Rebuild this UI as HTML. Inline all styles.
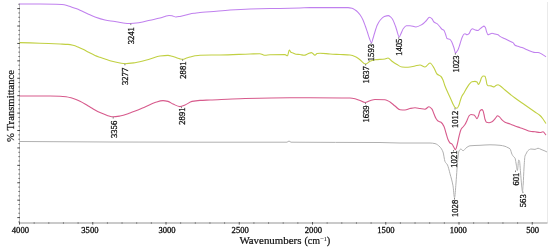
<!DOCTYPE html>
<html><head><meta charset="utf-8"><style>
html,body{margin:0;padding:0;background:#fff;width:550px;height:249px;overflow:hidden}
svg{display:block;will-change:transform;font-family:"Liberation Serif",serif;fill:#222}
svg text{fill:#111}
svg text.n{stroke:#111;stroke-width:0.3px}
svg text.t{stroke:#111;stroke-width:0.22px}
</style></head><body>
<svg width="550" height="249" viewBox="0 0 550 249">
<line x1="547.5" y1="2" x2="547.5" y2="223" stroke="#e4e4e4" stroke-width="0.8"/>
<line x1="19.5" y1="3.5" x2="19.5" y2="223.5" stroke="#bdbdbd" stroke-width="1"/>
<line x1="19" y1="223" x2="547.5" y2="223" stroke="#b8b8b8" stroke-width="1.3"/>
<line x1="19.50" y1="222" x2="19.50" y2="224.6" stroke="#555" stroke-width="1"/>
<line x1="34.15" y1="222" x2="34.15" y2="224" stroke="#777" stroke-width="0.8"/>
<line x1="48.80" y1="222" x2="48.80" y2="224" stroke="#777" stroke-width="0.8"/>
<line x1="63.45" y1="222" x2="63.45" y2="224" stroke="#777" stroke-width="0.8"/>
<line x1="78.10" y1="222" x2="78.10" y2="224" stroke="#777" stroke-width="0.8"/>
<line x1="92.75" y1="222" x2="92.75" y2="224.6" stroke="#555" stroke-width="1"/>
<line x1="107.40" y1="222" x2="107.40" y2="224" stroke="#777" stroke-width="0.8"/>
<line x1="122.05" y1="222" x2="122.05" y2="224" stroke="#777" stroke-width="0.8"/>
<line x1="136.70" y1="222" x2="136.70" y2="224" stroke="#777" stroke-width="0.8"/>
<line x1="151.35" y1="222" x2="151.35" y2="224" stroke="#777" stroke-width="0.8"/>
<line x1="166.00" y1="222" x2="166.00" y2="224.6" stroke="#555" stroke-width="1"/>
<line x1="180.65" y1="222" x2="180.65" y2="224" stroke="#777" stroke-width="0.8"/>
<line x1="195.30" y1="222" x2="195.30" y2="224" stroke="#777" stroke-width="0.8"/>
<line x1="209.95" y1="222" x2="209.95" y2="224" stroke="#777" stroke-width="0.8"/>
<line x1="224.60" y1="222" x2="224.60" y2="224" stroke="#777" stroke-width="0.8"/>
<line x1="239.25" y1="222" x2="239.25" y2="224.6" stroke="#555" stroke-width="1"/>
<line x1="253.90" y1="222" x2="253.90" y2="224" stroke="#777" stroke-width="0.8"/>
<line x1="268.55" y1="222" x2="268.55" y2="224" stroke="#777" stroke-width="0.8"/>
<line x1="283.20" y1="222" x2="283.20" y2="224" stroke="#777" stroke-width="0.8"/>
<line x1="297.85" y1="222" x2="297.85" y2="224" stroke="#777" stroke-width="0.8"/>
<line x1="312.50" y1="222" x2="312.50" y2="224.6" stroke="#555" stroke-width="1"/>
<line x1="327.15" y1="222" x2="327.15" y2="224" stroke="#777" stroke-width="0.8"/>
<line x1="341.80" y1="222" x2="341.80" y2="224" stroke="#777" stroke-width="0.8"/>
<line x1="356.45" y1="222" x2="356.45" y2="224" stroke="#777" stroke-width="0.8"/>
<line x1="371.10" y1="222" x2="371.10" y2="224" stroke="#777" stroke-width="0.8"/>
<line x1="385.75" y1="222" x2="385.75" y2="224.6" stroke="#555" stroke-width="1"/>
<line x1="400.40" y1="222" x2="400.40" y2="224" stroke="#777" stroke-width="0.8"/>
<line x1="415.05" y1="222" x2="415.05" y2="224" stroke="#777" stroke-width="0.8"/>
<line x1="429.70" y1="222" x2="429.70" y2="224" stroke="#777" stroke-width="0.8"/>
<line x1="444.35" y1="222" x2="444.35" y2="224" stroke="#777" stroke-width="0.8"/>
<line x1="459.00" y1="222" x2="459.00" y2="224.6" stroke="#555" stroke-width="1"/>
<line x1="473.65" y1="222" x2="473.65" y2="224" stroke="#777" stroke-width="0.8"/>
<line x1="488.30" y1="222" x2="488.30" y2="224" stroke="#777" stroke-width="0.8"/>
<line x1="502.95" y1="222" x2="502.95" y2="224" stroke="#777" stroke-width="0.8"/>
<line x1="517.60" y1="222" x2="517.60" y2="224" stroke="#777" stroke-width="0.8"/>
<line x1="532.25" y1="222" x2="532.25" y2="224.6" stroke="#555" stroke-width="1"/>
<line x1="18.3" y1="4.25" x2="20" y2="4.25" stroke="#666" stroke-width="0.9"/>
<line x1="17.3" y1="8.60" x2="20" y2="8.60" stroke="#444" stroke-width="1"/>
<line x1="18.3" y1="12.96" x2="20" y2="12.96" stroke="#666" stroke-width="0.9"/>
<line x1="18.3" y1="17.31" x2="20" y2="17.31" stroke="#666" stroke-width="0.9"/>
<line x1="18.3" y1="21.67" x2="20" y2="21.67" stroke="#666" stroke-width="0.9"/>
<line x1="17.3" y1="26.02" x2="20" y2="26.02" stroke="#444" stroke-width="1"/>
<line x1="18.3" y1="30.37" x2="20" y2="30.37" stroke="#666" stroke-width="0.9"/>
<line x1="18.3" y1="34.73" x2="20" y2="34.73" stroke="#666" stroke-width="0.9"/>
<line x1="18.3" y1="39.08" x2="20" y2="39.08" stroke="#666" stroke-width="0.9"/>
<line x1="17.3" y1="43.44" x2="20" y2="43.44" stroke="#444" stroke-width="1"/>
<line x1="18.3" y1="47.79" x2="20" y2="47.79" stroke="#666" stroke-width="0.9"/>
<line x1="18.3" y1="52.14" x2="20" y2="52.14" stroke="#666" stroke-width="0.9"/>
<line x1="18.3" y1="56.50" x2="20" y2="56.50" stroke="#666" stroke-width="0.9"/>
<line x1="17.3" y1="60.85" x2="20" y2="60.85" stroke="#444" stroke-width="1"/>
<line x1="18.3" y1="65.21" x2="20" y2="65.21" stroke="#666" stroke-width="0.9"/>
<line x1="18.3" y1="69.56" x2="20" y2="69.56" stroke="#666" stroke-width="0.9"/>
<line x1="18.3" y1="73.91" x2="20" y2="73.91" stroke="#666" stroke-width="0.9"/>
<line x1="17.3" y1="78.27" x2="20" y2="78.27" stroke="#444" stroke-width="1"/>
<line x1="18.3" y1="82.62" x2="20" y2="82.62" stroke="#666" stroke-width="0.9"/>
<line x1="18.3" y1="86.98" x2="20" y2="86.98" stroke="#666" stroke-width="0.9"/>
<line x1="18.3" y1="91.33" x2="20" y2="91.33" stroke="#666" stroke-width="0.9"/>
<line x1="17.3" y1="95.68" x2="20" y2="95.68" stroke="#444" stroke-width="1"/>
<line x1="18.3" y1="100.04" x2="20" y2="100.04" stroke="#666" stroke-width="0.9"/>
<line x1="18.3" y1="104.39" x2="20" y2="104.39" stroke="#666" stroke-width="0.9"/>
<line x1="18.3" y1="108.75" x2="20" y2="108.75" stroke="#666" stroke-width="0.9"/>
<line x1="17.3" y1="113.10" x2="20" y2="113.10" stroke="#444" stroke-width="1"/>
<line x1="18.3" y1="117.45" x2="20" y2="117.45" stroke="#666" stroke-width="0.9"/>
<line x1="18.3" y1="121.81" x2="20" y2="121.81" stroke="#666" stroke-width="0.9"/>
<line x1="18.3" y1="126.16" x2="20" y2="126.16" stroke="#666" stroke-width="0.9"/>
<line x1="17.3" y1="130.52" x2="20" y2="130.52" stroke="#444" stroke-width="1"/>
<line x1="18.3" y1="134.87" x2="20" y2="134.87" stroke="#666" stroke-width="0.9"/>
<line x1="18.3" y1="139.22" x2="20" y2="139.22" stroke="#666" stroke-width="0.9"/>
<line x1="18.3" y1="143.58" x2="20" y2="143.58" stroke="#666" stroke-width="0.9"/>
<line x1="17.3" y1="147.93" x2="20" y2="147.93" stroke="#444" stroke-width="1"/>
<line x1="18.3" y1="152.29" x2="20" y2="152.29" stroke="#666" stroke-width="0.9"/>
<line x1="18.3" y1="156.64" x2="20" y2="156.64" stroke="#666" stroke-width="0.9"/>
<line x1="18.3" y1="160.99" x2="20" y2="160.99" stroke="#666" stroke-width="0.9"/>
<line x1="17.3" y1="165.35" x2="20" y2="165.35" stroke="#444" stroke-width="1"/>
<line x1="18.3" y1="169.70" x2="20" y2="169.70" stroke="#666" stroke-width="0.9"/>
<line x1="18.3" y1="174.06" x2="20" y2="174.06" stroke="#666" stroke-width="0.9"/>
<line x1="18.3" y1="178.41" x2="20" y2="178.41" stroke="#666" stroke-width="0.9"/>
<line x1="17.3" y1="182.76" x2="20" y2="182.76" stroke="#444" stroke-width="1"/>
<line x1="18.3" y1="187.12" x2="20" y2="187.12" stroke="#666" stroke-width="0.9"/>
<line x1="18.3" y1="191.47" x2="20" y2="191.47" stroke="#666" stroke-width="0.9"/>
<line x1="18.3" y1="195.83" x2="20" y2="195.83" stroke="#666" stroke-width="0.9"/>
<line x1="17.3" y1="200.18" x2="20" y2="200.18" stroke="#444" stroke-width="1"/>
<line x1="18.3" y1="204.53" x2="20" y2="204.53" stroke="#666" stroke-width="0.9"/>
<line x1="18.3" y1="208.89" x2="20" y2="208.89" stroke="#666" stroke-width="0.9"/>
<line x1="18.3" y1="213.24" x2="20" y2="213.24" stroke="#666" stroke-width="0.9"/>
<line x1="17.3" y1="217.60" x2="20" y2="217.60" stroke="#444" stroke-width="1"/>
<line x1="18.3" y1="221.95" x2="20" y2="221.95" stroke="#666" stroke-width="0.9"/>
<path d="M19.50,4.00 C26.33,4.00 33.17,4.00 40.00,4.00 C45.33,4.00 50.67,4.08 56.00,4.20 C58.00,4.24 60.00,4.34 62.00,4.50 C63.67,4.63 65.33,5.00 67.00,5.40 C68.67,5.80 70.33,6.61 72.00,7.20 C73.33,7.67 74.67,8.10 76.00,8.60 C77.33,9.10 78.67,9.63 80.00,10.20 C82.67,11.35 85.33,12.80 88.00,14.00 C90.33,15.05 92.67,16.17 95.00,17.00 C98.33,18.19 101.67,19.33 105.00,20.00 C108.33,20.67 111.67,20.94 115.00,21.50 C117.33,21.89 119.67,22.52 122.00,22.80 C124.67,23.12 127.33,23.50 130.00,23.50 C133.33,23.50 136.67,22.96 140.00,22.50 C143.33,22.04 146.67,20.95 150.00,20.20 C153.33,19.45 156.67,18.86 160.00,18.00 C161.67,17.57 163.33,16.95 165.00,16.50 C166.33,16.14 167.67,15.50 169.00,15.50 C170.00,15.50 171.00,15.65 172.00,15.80 C173.33,16.00 174.67,17.00 176.00,17.00 C177.33,17.00 178.67,16.64 180.00,16.40 C181.67,16.10 183.33,15.70 185.00,15.30 C186.67,14.90 188.33,14.33 190.00,14.00 C191.67,13.67 193.33,13.45 195.00,13.20 C196.67,12.95 198.33,12.66 200.00,12.50 C203.33,12.18 206.67,12.06 210.00,11.80 C216.67,11.28 223.33,10.43 230.00,10.00 C236.67,9.57 243.33,9.20 250.00,9.00 C260.00,8.71 270.00,8.60 280.00,8.40 C286.67,8.27 293.33,8.18 300.00,8.00 C303.33,7.91 306.67,7.60 310.00,7.60 C316.67,7.60 323.33,7.60 330.00,7.60 C336.00,7.60 342.00,7.60 348.00,7.60 C349.33,7.60 350.67,7.94 352.00,8.30 C353.07,8.59 354.13,9.31 355.20,10.00 C356.13,10.61 357.07,11.37 358.00,12.30 C358.73,13.03 359.47,13.94 360.20,15.00 C361.13,16.35 362.07,18.01 363.00,20.00 C363.77,21.64 364.53,23.87 365.30,26.00 C366.03,28.03 366.77,30.30 367.50,32.50 C368.10,34.30 368.70,36.43 369.30,38.00 C370.00,39.84 370.70,42.80 371.40,42.80 C371.93,42.80 372.47,40.12 373.00,38.50 C373.43,37.18 373.87,35.41 374.30,34.00 C375.30,30.76 376.30,27.14 377.30,25.00 C378.30,22.86 379.30,21.16 380.30,20.00 C381.63,18.45 382.97,16.97 384.30,16.50 C385.67,16.02 387.03,15.60 388.40,15.60 C389.10,15.60 389.80,16.26 390.50,16.80 C391.13,17.29 391.77,18.04 392.40,19.00 C393.40,20.51 394.40,23.29 395.40,26.00 C395.93,27.45 396.47,29.44 397.00,31.00 C397.73,33.14 398.47,37.00 399.20,37.00 C399.73,37.00 400.27,35.06 400.80,34.00 C401.67,32.29 402.53,29.60 403.40,28.50 C404.40,27.23 405.40,25.86 406.40,25.80 C407.60,25.73 408.80,25.70 410.00,25.70 C412.00,25.70 414.00,27.00 416.00,27.00 C418.00,27.00 420.00,25.66 422.00,24.50 C423.33,23.73 424.67,22.30 426.00,21.00 C427.17,19.87 428.33,17.20 429.50,17.20 C430.33,17.20 431.17,18.03 432.00,18.80 C432.67,19.42 433.33,21.42 434.00,22.00 C435.00,22.86 436.00,22.96 437.00,23.70 C438.00,24.44 439.00,25.77 440.00,26.90 C440.67,27.66 441.33,28.83 442.00,29.30 C442.67,29.77 443.33,29.73 444.00,30.30 C444.50,30.73 445.00,32.65 445.50,34.00 C446.00,35.35 446.50,38.20 447.00,38.50 C448.00,39.10 449.00,38.87 450.00,39.40 C450.67,39.75 451.33,41.18 452.00,42.50 C452.67,43.82 453.33,45.98 454.00,48.00 C454.50,49.51 455.00,53.00 455.50,53.00 C456.33,53.00 457.17,51.22 458.00,49.70 C458.67,48.48 459.33,45.99 460.00,44.00 C460.67,42.01 461.33,39.23 462.00,37.70 C462.67,36.17 463.33,34.51 464.00,34.10 C464.33,33.90 464.67,33.70 465.00,33.70 C465.67,33.70 466.33,34.80 467.00,34.80 C467.67,34.80 468.33,34.27 469.00,33.70 C469.67,33.13 470.33,30.59 471.00,29.90 C471.50,29.38 472.00,28.80 472.50,28.80 C473.33,28.80 474.17,29.67 475.00,29.90 C476.00,30.18 477.00,30.50 478.00,30.50 C478.67,30.50 479.33,29.35 480.00,28.80 C480.67,28.25 481.33,27.63 482.00,27.20 C482.67,26.77 483.33,26.10 484.00,26.10 C484.50,26.10 485.00,26.90 485.50,27.80 C485.83,28.40 486.17,30.56 486.50,31.50 C487.00,32.90 487.50,34.80 488.00,34.80 C488.67,34.80 489.33,34.27 490.00,34.00 C490.67,33.73 491.33,33.20 492.00,33.20 C493.00,33.20 494.00,33.73 495.00,34.00 C496.00,34.27 497.00,34.39 498.00,34.80 C498.67,35.08 499.33,35.99 500.00,36.40 C501.67,37.41 503.33,37.90 505.00,38.70 C506.67,39.50 508.33,40.40 510.00,41.20 C511.00,41.68 512.00,41.89 513.00,42.60 C513.67,43.07 514.33,44.83 515.00,45.20 C516.00,45.75 517.00,45.86 518.00,46.20 C519.33,46.65 520.67,47.09 522.00,47.60 C523.67,48.23 525.33,49.00 527.00,49.70 C528.67,50.40 530.33,51.31 532.00,51.80 C533.00,52.09 534.00,52.50 535.00,52.50 C536.00,52.50 537.00,52.50 538.00,52.50 C539.33,52.50 540.67,53.53 542.00,54.20 C543.33,54.87 544.67,55.87 546.00,56.70" fill="none" stroke="#c080ee" stroke-width="1.05" stroke-linejoin="round"/>
<path d="M19.50,42.60 C26.33,42.80 33.17,42.97 40.00,43.20 C46.67,43.43 53.33,43.70 60.00,44.00 C62.67,44.12 65.33,44.18 68.00,44.40 C69.67,44.54 71.33,44.91 73.00,45.30 C74.67,45.69 76.33,46.35 78.00,47.00 C79.67,47.65 81.33,48.47 83.00,49.30 C84.67,50.13 86.33,51.13 88.00,52.00 C90.33,53.21 92.67,54.53 95.00,55.50 C96.67,56.19 98.33,56.72 100.00,57.30 C101.67,57.88 103.33,58.43 105.00,59.00 C106.67,59.57 108.33,60.23 110.00,60.70 C113.33,61.63 116.67,62.44 120.00,63.00 C121.67,63.28 123.33,63.70 125.00,63.70 C128.33,63.70 131.67,63.16 135.00,62.70 C140.00,62.01 145.00,60.36 150.00,59.00 C153.33,58.09 156.67,56.39 160.00,56.00 C162.67,55.69 165.33,55.40 168.00,55.40 C169.33,55.40 170.67,55.86 172.00,56.20 C173.33,56.54 174.67,57.15 176.00,57.60 C177.33,58.05 178.67,58.64 180.00,58.90 C180.93,59.08 181.87,59.30 182.80,59.30 C183.87,59.30 184.93,58.64 186.00,58.30 C187.33,57.88 188.67,57.37 190.00,57.00 C191.67,56.54 193.33,56.07 195.00,55.80 C196.67,55.53 198.33,55.24 200.00,55.20 C206.67,55.05 213.33,55.10 220.00,55.00 C230.00,54.85 240.00,54.31 250.00,54.00 C253.33,53.90 256.67,53.70 260.00,53.70 C261.00,53.70 262.00,54.55 263.00,54.80 C263.67,54.97 264.33,55.20 265.00,55.20 C266.67,55.20 268.33,54.84 270.00,54.80 C275.00,54.67 280.00,54.60 285.00,54.60 C285.83,54.60 286.67,55.80 287.50,55.80 C288.10,55.80 288.70,50.00 289.30,50.00 C289.87,50.00 290.43,51.98 291.00,52.30 C291.67,52.68 292.33,52.75 293.00,53.00 C294.00,53.37 295.00,54.07 296.00,54.20 C297.33,54.37 298.67,54.35 300.00,54.50 C301.33,54.65 302.67,55.30 304.00,55.30 C305.33,55.30 306.67,54.28 308.00,53.80 C309.17,53.38 310.33,52.60 311.50,52.60 C312.67,52.60 313.83,55.30 315.00,55.30 C315.67,55.30 316.33,53.63 317.00,53.50 C318.00,53.31 319.00,53.20 320.00,53.20 C323.33,53.20 326.67,53.79 330.00,54.00 C333.33,54.21 336.67,54.33 340.00,54.50 C343.33,54.67 346.67,54.69 350.00,55.00 C352.00,55.19 354.00,56.09 356.00,57.00 C357.33,57.61 358.67,58.74 360.00,59.70 C361.83,61.02 363.67,64.00 365.50,64.00 C367.00,64.00 368.50,61.93 370.00,61.30 C371.67,60.60 373.33,59.91 375.00,59.70 C378.33,59.29 381.67,59.44 385.00,59.00 C386.00,58.87 387.00,58.00 388.00,58.00 C389.33,58.00 390.67,60.33 392.00,61.30 C393.67,62.51 395.33,63.56 397.00,64.50 C398.67,65.44 400.33,66.89 402.00,67.00 C404.00,67.13 406.00,67.20 408.00,67.20 C410.33,67.20 412.67,66.43 415.00,66.00 C416.67,65.69 418.33,65.00 420.00,65.00 C421.67,65.00 423.33,67.00 425.00,67.00 C426.67,67.00 428.33,63.00 430.00,63.00 C431.33,63.00 432.67,65.93 434.00,68.00 C435.00,69.56 436.00,73.02 437.00,74.00 C438.33,75.30 439.67,75.20 441.00,76.50 C441.67,77.15 442.33,78.53 443.00,80.00 C443.67,81.47 444.33,84.24 445.00,86.00 C446.00,88.65 447.00,90.75 448.00,93.00 C449.00,95.25 450.00,97.29 451.00,99.50 C451.67,100.97 452.33,102.69 453.00,104.00 C453.67,105.31 454.33,107.11 455.00,107.50 C455.67,107.89 456.33,108.20 457.00,108.20 C457.67,108.20 458.33,106.47 459.00,105.00 C459.50,103.90 460.00,101.48 460.50,100.00 C461.00,98.52 461.50,96.97 462.00,96.00 C462.67,94.70 463.33,94.08 464.00,93.00 C465.00,91.37 466.00,89.20 467.00,87.60 C468.00,86.00 469.00,84.26 470.00,83.30 C470.67,82.66 471.33,81.96 472.00,81.80 C473.00,81.56 474.00,81.40 475.00,81.40 C475.67,81.40 476.33,81.65 477.00,82.00 C477.50,82.26 478.00,84.50 478.50,84.50 C479.00,84.50 479.50,83.04 480.00,82.00 C480.50,80.96 481.00,78.64 481.50,77.80 C482.00,76.96 482.50,76.00 483.00,76.00 C483.67,76.00 484.33,76.09 485.00,76.30 C485.33,76.41 485.67,78.29 486.00,79.60 C486.33,80.91 486.67,83.86 487.00,84.50 C487.33,85.14 487.67,85.65 488.00,85.70 C489.00,85.85 490.00,85.79 491.00,85.90 C492.00,86.01 493.00,86.90 494.00,86.90 C494.67,86.90 495.33,85.72 496.00,85.40 C496.67,85.08 497.33,84.70 498.00,84.70 C498.67,84.70 499.33,85.29 500.00,85.70 C501.67,86.72 503.33,88.61 505.00,90.00 C508.33,92.77 511.67,95.51 515.00,98.00 C518.33,100.49 521.67,102.67 525.00,105.00 C528.33,107.33 531.67,109.67 535.00,112.00 C536.67,113.17 538.33,114.01 540.00,115.50 C541.00,116.39 542.00,117.69 543.00,119.00 C544.00,120.31 545.00,122.00 546.00,123.50" fill="none" stroke="#c1d042" stroke-width="1.1" stroke-linejoin="round"/>
<path d="M19.50,96.00 C29.67,96.00 39.83,96.00 50.00,96.00 C53.33,96.00 56.67,96.09 60.00,96.20 C62.00,96.27 64.00,96.45 66.00,96.70 C67.67,96.90 69.33,97.35 71.00,97.80 C72.67,98.25 74.33,98.85 76.00,99.50 C77.33,100.02 78.67,100.65 80.00,101.30 C81.67,102.12 83.33,103.05 85.00,104.00 C86.67,104.95 88.33,106.00 90.00,107.00 C91.67,108.00 93.33,109.09 95.00,110.00 C96.67,110.91 98.33,111.76 100.00,112.50 C101.67,113.24 103.33,113.86 105.00,114.50 C106.33,115.02 107.67,115.65 109.00,116.00 C110.33,116.35 111.67,116.80 113.00,116.80 C115.33,116.80 117.67,116.38 120.00,116.00 C123.33,115.46 126.67,114.13 130.00,113.00 C135.00,111.30 140.00,109.10 145.00,107.00 C148.33,105.60 151.67,103.65 155.00,102.60 C157.67,101.76 160.33,100.60 163.00,100.60 C164.67,100.60 166.33,100.99 168.00,101.40 C169.67,101.81 171.33,103.27 173.00,104.00 C175.33,105.02 177.67,106.60 180.00,106.60 C181.67,106.60 183.33,105.65 185.00,105.00 C187.33,104.09 189.67,101.88 192.00,101.40 C194.67,100.86 197.33,100.56 200.00,100.40 C203.33,100.19 206.67,100.14 210.00,100.00 C220.00,99.59 230.00,98.98 240.00,98.70 C256.67,98.23 273.33,97.70 290.00,97.70 C296.67,97.70 303.33,97.70 310.00,97.70 C323.33,97.70 336.67,97.75 350.00,98.00 C351.67,98.03 353.33,98.36 355.00,98.70 C356.67,99.04 358.33,99.87 360.00,100.50 C361.67,101.13 363.33,102.50 365.00,102.50 C366.67,102.50 368.33,101.18 370.00,100.70 C371.67,100.22 373.33,99.50 375.00,99.50 C378.33,99.50 381.67,99.56 385.00,99.70 C386.67,99.77 388.33,101.03 390.00,102.00 C391.67,102.97 393.33,104.70 395.00,106.00 C396.67,107.30 398.33,109.67 400.00,109.80 C401.67,109.93 403.33,110.00 405.00,110.00 C406.67,110.00 408.33,108.82 410.00,108.50 C411.67,108.18 413.33,107.80 415.00,107.80 C416.67,107.80 418.33,108.27 420.00,108.50 C421.67,108.73 423.33,109.20 425.00,109.20 C426.33,109.20 427.67,106.80 429.00,106.80 C430.00,106.80 431.00,107.96 432.00,109.20 C432.67,110.03 433.33,112.45 434.00,114.00 C434.67,115.55 435.33,117.43 436.00,118.50 C436.67,119.57 437.33,120.56 438.00,121.00 C439.00,121.67 440.00,121.64 441.00,122.30 C442.00,122.96 443.00,124.49 444.00,126.50 C444.67,127.84 445.33,130.83 446.00,133.00 C446.67,135.17 447.33,137.98 448.00,139.50 C448.67,141.02 449.33,142.40 450.00,143.00 C450.67,143.60 451.33,143.61 452.00,144.20 C452.67,144.79 453.33,146.44 454.00,147.50 C454.50,148.29 455.00,149.80 455.50,149.80 C456.00,149.80 456.50,147.23 457.00,145.50 C457.67,143.19 458.33,139.12 459.00,136.50 C459.67,133.88 460.33,130.73 461.00,129.50 C461.67,128.27 462.33,127.83 463.00,127.00 C463.67,126.17 464.33,125.53 465.00,124.50 C465.67,123.47 466.33,121.91 467.00,120.50 C467.67,119.09 468.33,116.75 469.00,116.00 C469.67,115.25 470.33,114.50 471.00,114.50 C472.00,114.50 473.00,114.74 474.00,115.10 C474.67,115.34 475.33,116.70 476.00,117.50 C476.33,117.90 476.67,118.70 477.00,118.70 C477.50,118.70 478.00,116.94 478.50,115.70 C479.00,114.46 479.50,111.32 480.00,110.80 C480.67,110.10 481.33,109.60 482.00,109.60 C482.33,109.60 482.67,110.20 483.00,110.80 C483.33,111.40 483.67,113.11 484.00,114.50 C484.33,115.89 484.67,118.33 485.00,119.30 C485.50,120.75 486.00,122.14 486.50,122.30 C487.33,122.57 488.17,122.70 489.00,122.70 C490.00,122.70 491.00,122.20 492.00,121.70 C492.67,121.37 493.33,120.59 494.00,119.90 C494.67,119.21 495.33,118.30 496.00,117.50 C496.50,116.90 497.00,115.70 497.50,115.70 C498.17,115.70 498.83,116.37 499.50,116.90 C500.33,117.56 501.17,119.10 502.00,119.90 C503.00,120.87 504.00,121.81 505.00,122.30 C506.67,123.12 508.33,123.39 510.00,124.00 C511.67,124.61 513.33,125.39 515.00,126.00 C516.67,126.61 518.33,127.13 520.00,127.70 C521.67,128.27 523.33,128.80 525.00,129.40 C526.67,130.00 528.33,131.04 530.00,131.30 C531.67,131.56 533.33,131.61 535.00,131.80 C536.67,131.99 538.33,132.50 540.00,132.50 C541.00,132.50 542.00,131.80 543.00,131.80 C544.00,131.80 545.00,133.93 546.00,135.00" fill="none" stroke="#d75a8c" stroke-width="1.1" stroke-linejoin="round"/>
<path d="M19.50,141.50 C49.67,141.67 79.83,141.90 110.00,142.00 C140.00,142.10 170.00,142.20 200.00,142.20 C229.00,142.20 258.00,142.20 287.00,142.20 C287.67,142.20 288.33,141.00 289.00,141.00 C289.67,141.00 290.33,142.19 291.00,142.20 C320.67,142.49 350.33,142.29 380.00,142.50 C386.67,142.55 393.33,143.00 400.00,143.00 C410.00,143.00 420.00,143.00 430.00,143.00 C431.67,143.00 433.33,143.26 435.00,143.60 C436.67,143.94 438.33,145.33 440.00,147.00 C441.00,148.00 442.00,149.45 443.00,152.00 C443.67,153.70 444.33,160.03 445.00,161.50 C445.83,163.34 446.67,163.34 447.50,165.00 C448.33,166.66 449.17,170.59 450.00,173.70 C451.00,177.43 452.00,180.23 453.00,185.80 C453.50,188.58 454.00,197.80 454.50,197.80 C455.00,197.80 455.50,188.86 456.00,183.00 C456.33,179.10 456.67,173.31 457.00,169.00 C457.33,164.69 457.67,159.67 458.00,157.00 C458.33,154.33 458.67,151.62 459.00,151.00 C459.67,149.76 460.33,149.00 461.00,149.00 C461.67,149.00 462.33,150.80 463.00,150.80 C464.00,150.80 465.00,148.70 466.00,148.00 C467.33,147.07 468.67,145.94 470.00,145.80 C473.33,145.45 476.67,145.47 480.00,145.30 C483.33,145.13 486.67,144.80 490.00,144.80 C493.33,144.80 496.67,145.01 500.00,145.30 C501.67,145.44 503.33,145.82 505.00,146.30 C506.00,146.59 507.00,147.19 508.00,147.70 C508.67,148.04 509.33,148.19 510.00,148.80 C510.67,149.41 511.33,153.00 512.00,154.30 C512.50,155.27 513.00,156.02 513.50,156.60 C514.00,157.18 514.50,157.18 515.00,158.00 C515.33,158.55 515.67,161.28 516.00,163.00 C516.47,165.41 516.93,170.50 517.40,170.50 C517.83,170.50 518.27,160.00 518.70,160.00 C518.97,160.00 519.23,160.42 519.50,161.00 C519.83,161.73 520.17,168.20 520.50,172.00 C520.87,176.18 521.23,181.50 521.60,185.00 C521.87,187.54 522.13,191.50 522.40,191.50 C522.67,191.50 522.93,187.40 523.20,184.00 C523.47,180.60 523.73,172.04 524.00,168.00 C524.33,162.95 524.67,157.14 525.00,156.00 C525.33,154.86 525.67,154.62 526.00,154.00 C526.67,152.76 527.33,151.16 528.00,150.60 C529.00,149.76 530.00,149.00 531.00,149.00 C532.33,149.00 533.67,149.40 535.00,149.40 C536.00,149.40 537.00,148.20 538.00,148.20 C539.00,148.20 540.00,149.00 541.00,149.40 C542.33,149.93 543.67,150.40 545.00,151.00 C545.67,151.30 546.33,151.67 547.00,152.00" fill="none" stroke="#b0b0b0" stroke-width="1.0" stroke-linejoin="round"/>
<line x1="130.80" y1="23.50" x2="130.80" y2="25.10" stroke="#777" stroke-width="0.9"/>
<text class="n" transform="translate(134.14,44.30) rotate(-90)" font-size="8.60">3241</text>
<line x1="371.10" y1="42.80" x2="371.10" y2="44.40" stroke="#777" stroke-width="0.9"/>
<text class="n" transform="translate(374.44,61.20) rotate(-90)" font-size="8.60">1593</text>
<line x1="398.70" y1="37.20" x2="398.70" y2="38.80" stroke="#777" stroke-width="0.9"/>
<text class="n" transform="translate(402.04,55.80) rotate(-90)" font-size="8.60">1405</text>
<line x1="455.40" y1="53.00" x2="455.40" y2="54.60" stroke="#777" stroke-width="0.9"/>
<text class="n" transform="translate(458.74,72.60) rotate(-90)" font-size="8.60">1023</text>
<line x1="124.90" y1="63.70" x2="124.90" y2="65.30" stroke="#777" stroke-width="0.9"/>
<text class="n" transform="translate(128.24,85.00) rotate(-90)" font-size="8.60">3277</text>
<line x1="182.60" y1="59.30" x2="182.60" y2="60.90" stroke="#777" stroke-width="0.9"/>
<text class="n" transform="translate(185.94,78.70) rotate(-90)" font-size="8.60">2881</text>
<line x1="365.60" y1="64.00" x2="365.60" y2="65.60" stroke="#777" stroke-width="0.9"/>
<text class="n" transform="translate(368.94,83.40) rotate(-90)" font-size="8.60">1637</text>
<line x1="455.00" y1="108.00" x2="455.00" y2="109.60" stroke="#777" stroke-width="0.9"/>
<text class="n" transform="translate(458.34,128.00) rotate(-90)" font-size="8.60">1012</text>
<line x1="113.20" y1="117.00" x2="113.20" y2="118.60" stroke="#777" stroke-width="0.9"/>
<text class="n" transform="translate(116.54,138.00) rotate(-90)" font-size="8.60">3356</text>
<line x1="181.50" y1="106.60" x2="181.50" y2="108.20" stroke="#777" stroke-width="0.9"/>
<text class="n" transform="translate(184.84,124.70) rotate(-90)" font-size="8.60">2891</text>
<line x1="365.50" y1="102.50" x2="365.50" y2="104.10" stroke="#777" stroke-width="0.9"/>
<text class="n" transform="translate(368.84,122.60) rotate(-90)" font-size="8.60">1639</text>
<line x1="453.50" y1="150.00" x2="453.50" y2="151.60" stroke="#777" stroke-width="0.9"/>
<text class="n" transform="translate(456.84,167.70) rotate(-90)" font-size="8.60">1021</text>
<line x1="454.50" y1="198.00" x2="454.50" y2="199.60" stroke="#777" stroke-width="0.9"/>
<text class="n" transform="translate(457.84,217.00) rotate(-90)" font-size="8.60">1028</text>
<line x1="515.50" y1="170.50" x2="515.50" y2="172.10" stroke="#777" stroke-width="0.9"/>
<text class="n" transform="translate(518.84,185.50) rotate(-90)" font-size="8.60">601</text>
<line x1="522.90" y1="191.50" x2="522.90" y2="193.10" stroke="#777" stroke-width="0.9"/>
<text class="n" transform="translate(526.24,207.20) rotate(-90)" font-size="8.60">563</text>
<text class="n" x="20.40" y="232.6" font-size="8.6" text-anchor="middle">4000</text>
<text class="n" x="89.90" y="232.6" font-size="8.6" text-anchor="middle">3500</text>
<text class="n" x="167.00" y="232.6" font-size="8.6" text-anchor="middle">3000</text>
<text class="n" x="240.20" y="232.6" font-size="8.6" text-anchor="middle">2500</text>
<text class="n" x="313.40" y="232.6" font-size="8.6" text-anchor="middle">2000</text>
<text class="n" x="385.90" y="232.6" font-size="8.6" text-anchor="middle">1500</text>
<text class="n" x="458.30" y="232.6" font-size="8.6" text-anchor="middle">1000</text>
<text class="n" x="532.60" y="232.6" font-size="8.6" text-anchor="middle">500</text>
<text class="t" x="239.4" y="244.1" font-size="10.6" textLength="62" lengthAdjust="spacingAndGlyphs">Wavenumbers</text>
<text class="t" x="304.4" y="244.1" font-size="10.6" textLength="15.6" lengthAdjust="spacingAndGlyphs">(cm</text>
<text x="320.2" y="240.6" font-size="7">−</text>
<text x="323.6" y="241.3" font-size="6.8">1</text>
<text class="t" x="326.8" y="244.1" font-size="10.6">)</text>
<text class="t" transform="translate(14.2,141.9) rotate(-90)" font-size="10.6" textLength="72" lengthAdjust="spacingAndGlyphs">% Transmittance</text>
</svg>
</body></html>
